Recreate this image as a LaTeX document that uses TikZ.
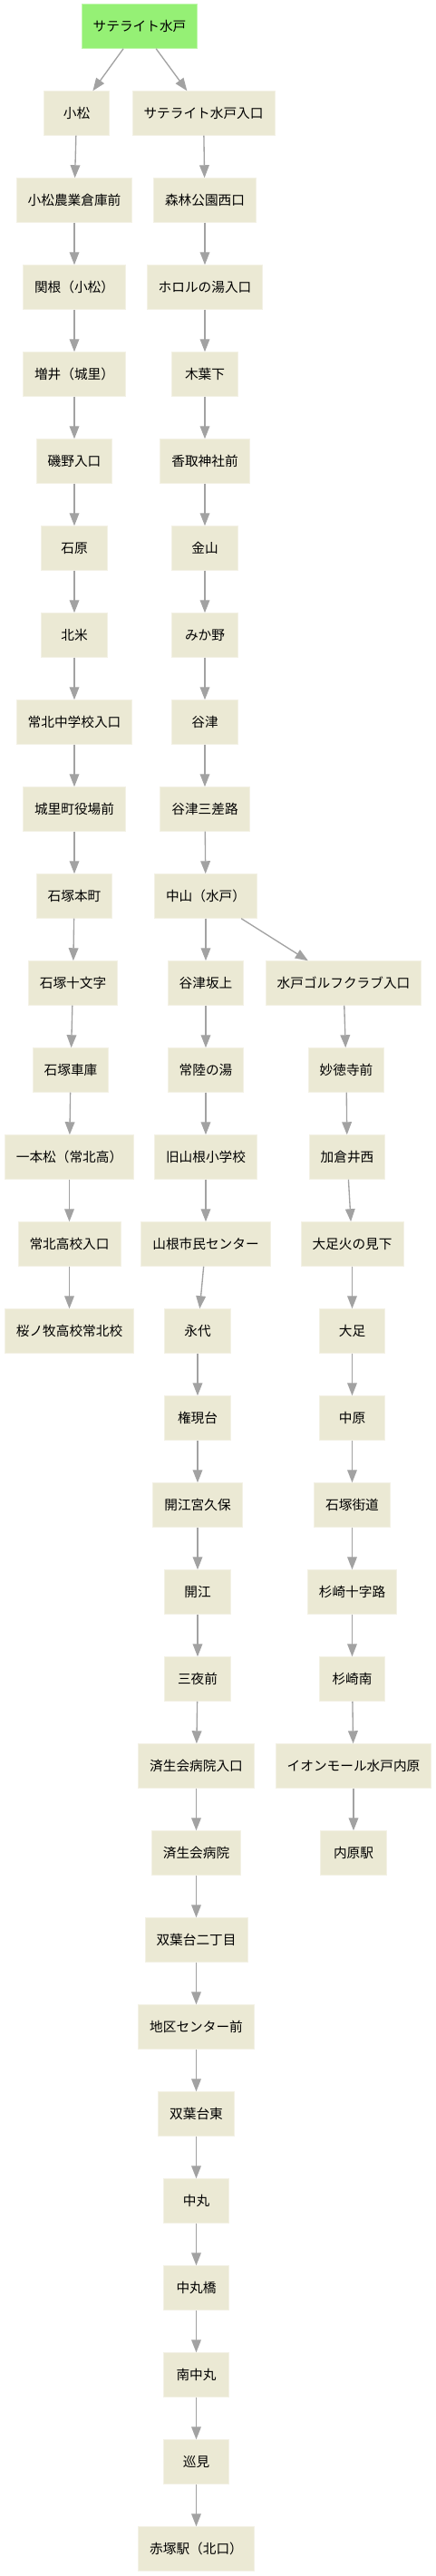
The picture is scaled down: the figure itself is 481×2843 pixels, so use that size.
\documentclass[tikz,border=0pt]{standalone}
\usepackage{xcolor}
\usepackage{fontspec}
\setmainfont{Noto Sans CJK JP}
\usepackage{tikz}
\usetikzlibrary{arrows.meta}
\definecolor{stopfill}{HTML}{EBE9D4}
\definecolor{stopline}{HTML}{F3F1E5}
\definecolor{startgreen}{HTML}{95F075}
\definecolor{edgegray}{HTML}{A2A2A2}

\begin{document}
\begin{tikzpicture}[x=0.75pt, y=-0.75pt,
    stop/.style={fill=stopfill, draw=stopline, line width=0.6pt,
      minimum width=54.5pt, minimum height=36.5pt, inner xsep=9.4pt,
      font=\fontsize{11}{13}\selectfont},
    start/.style={stop, fill=startgreen, draw=startgreen!60!white},
    edge/.style={draw=edgegray, line width=1pt, -{Triangle[length=10.5pt, width=8pt]}}]
  \useasboundingbox (0,0) rectangle (481,2843);

  % start
  \node[start] (sat) at (154,29) {サテライト水戸};

  % left branch
  \node[stop] (w1)  at (84.5,125)  {小松};
  \node[stop] (w2)  at (82,221)    {小松農業倉庫前};
  \node[stop] (w3)  at (82,317)    {関根（小松）};
  \node[stop] (w4)  at (82,413)    {増井（城里）};
  \node[stop] (w5)  at (82,509)    {磯野入口};
  \node[stop] (w6)  at (82,605)    {石原};
  \node[stop] (w7)  at (82,701)    {北米};
  \node[stop] (w8)  at (82,797)    {常北中学校入口};
  \node[stop] (w9)  at (82,893)    {城里町役場前};
  \node[stop] (w10) at (82,989)    {石塚本町};
  \node[stop] (w11) at (80.5,1085) {石塚十文字};
  \node[stop] (w12) at (78,1181)   {石塚車庫};
  \node[stop] (w13) at (76.5,1277) {一本松（常北高）};
  \node[stop] (w14) at (76.5,1373) {常北高校入口};
  \node[stop] (w15) at (76.5,1469) {桜ノ牧高校常北校};

  % middle branch
  \node[stop] (m1)  at (224.5,125)  {サテライト水戸入口};
  \node[stop] (m2)  at (226,221)    {森林公園西口};
  \node[stop] (m3)  at (226,317)    {ホロルの湯入口};
  \node[stop] (m4)  at (226,413)    {木葉下};
  \node[stop] (m5)  at (226,509)    {香取神社前};
  \node[stop] (m6)  at (226,605)    {金山};
  \node[stop] (m7)  at (226,701)    {みか野};
  \node[stop] (m8)  at (226,797)    {谷津};
  \node[stop] (m9)  at (226,893)    {谷津三差路};
  \node[stop] (m10) at (227,989)    {中山（水戸）};
  \node[stop] (m11) at (227,1085)   {谷津坂上};
  \node[stop] (m12) at (227,1181)   {常陸の湯};
  \node[stop] (m13) at (227,1277)   {旧山根小学校};
  \node[stop] (m14) at (227,1373)   {山根市民センター};
  \node[stop] (m15) at (218,1469)   {永代};
  \node[stop] (m16) at (218,1565)   {権現台};
  \node[stop] (m17) at (218,1661)   {開江宮久保};
  \node[stop] (m18) at (218,1757)   {開江};
  \node[stop] (m19) at (218,1853)   {三夜前};
  \node[stop] (m20) at (216.5,1949) {済生会病院入口};
  \node[stop] (m21) at (216.5,2045) {済生会病院};
  \node[stop] (m22) at (216.5,2141) {双葉台二丁目};
  \node[stop] (m23) at (216.5,2237) {地区センター前};
  \node[stop] (m24) at (216.5,2333) {双葉台東};
  \node[stop] (m25) at (216.5,2429) {中丸};
  \node[stop] (m26) at (216.5,2525) {中丸橋};
  \node[stop] (m27) at (216.5,2621) {南中丸};
  \node[stop] (m28) at (216.5,2717) {巡見};
  \node[stop] (m29) at (216.5,2813) {赤塚駅（北口）};

  % right branch
  \node[stop] (e11) at (379,1085)   {水戸ゴルフクラブ入口};
  \node[stop] (e12) at (382,1181)   {妙徳寺前};
  \node[stop] (e13) at (383,1277)   {加倉井西};
  \node[stop] (e14) at (388.5,1373) {大足火の見下};
  \node[stop] (e15) at (388.5,1469) {大足};
  \node[stop] (e16) at (388.5,1565) {中原};
  \node[stop] (e17) at (388.5,1661) {石塚街道};
  \node[stop] (e18) at (388.5,1757) {杉崎十字路};
  \node[stop] (e19) at (388.5,1853) {杉崎南};
  \node[stop] (e20) at (390,1949)   {イオンモール水戸内原};
  \node[stop] (e21) at (390,2045)   {内原駅};

  % connections
  \draw[edge] (sat) -- (w1);
  \draw[edge] (sat) -- (m1);
  \draw[edge] (w1) -- (w2);
  \draw[edge] (w2) -- (w3);
  \draw[edge] (w3) -- (w4);
  \draw[edge] (w4) -- (w5);
  \draw[edge] (w5) -- (w6);
  \draw[edge] (w6) -- (w7);
  \draw[edge] (w7) -- (w8);
  \draw[edge] (w8) -- (w9);
  \draw[edge] (w9) -- (w10);
  \draw[edge] (w10) -- (w11);
  \draw[edge] (w11) -- (w12);
  \draw[edge] (w12) -- (w13);
  \draw[edge] (w13) -- (w14);
  \draw[edge] (w14) -- (w15);
  \draw[edge] (m1) -- (m2);
  \draw[edge] (m2) -- (m3);
  \draw[edge] (m3) -- (m4);
  \draw[edge] (m4) -- (m5);
  \draw[edge] (m5) -- (m6);
  \draw[edge] (m6) -- (m7);
  \draw[edge] (m7) -- (m8);
  \draw[edge] (m8) -- (m9);
  \draw[edge] (m9) -- (m10);
  \draw[edge] (m10) -- (m11);
  \draw[edge] (m10) -- (e11);
  \draw[edge] (m11) -- (m12);
  \draw[edge] (m12) -- (m13);
  \draw[edge] (m13) -- (m14);
  \draw[edge] (m14) -- (m15);
  \draw[edge] (m15) -- (m16);
  \draw[edge] (m16) -- (m17);
  \draw[edge] (m17) -- (m18);
  \draw[edge] (m18) -- (m19);
  \draw[edge] (m19) -- (m20);
  \draw[edge] (m20) -- (m21);
  \draw[edge] (m21) -- (m22);
  \draw[edge] (m22) -- (m23);
  \draw[edge] (m23) -- (m24);
  \draw[edge] (m24) -- (m25);
  \draw[edge] (m25) -- (m26);
  \draw[edge] (m26) -- (m27);
  \draw[edge] (m27) -- (m28);
  \draw[edge] (m28) -- (m29);
  \draw[edge] (e11) -- (e12);
  \draw[edge] (e12) -- (e13);
  \draw[edge] (e13) -- (e14);
  \draw[edge] (e14) -- (e15);
  \draw[edge] (e15) -- (e16);
  \draw[edge] (e16) -- (e17);
  \draw[edge] (e17) -- (e18);
  \draw[edge] (e18) -- (e19);
  \draw[edge] (e19) -- (e20);
  \draw[edge] (e20) -- (e21);
\end{tikzpicture}
\end{document}
